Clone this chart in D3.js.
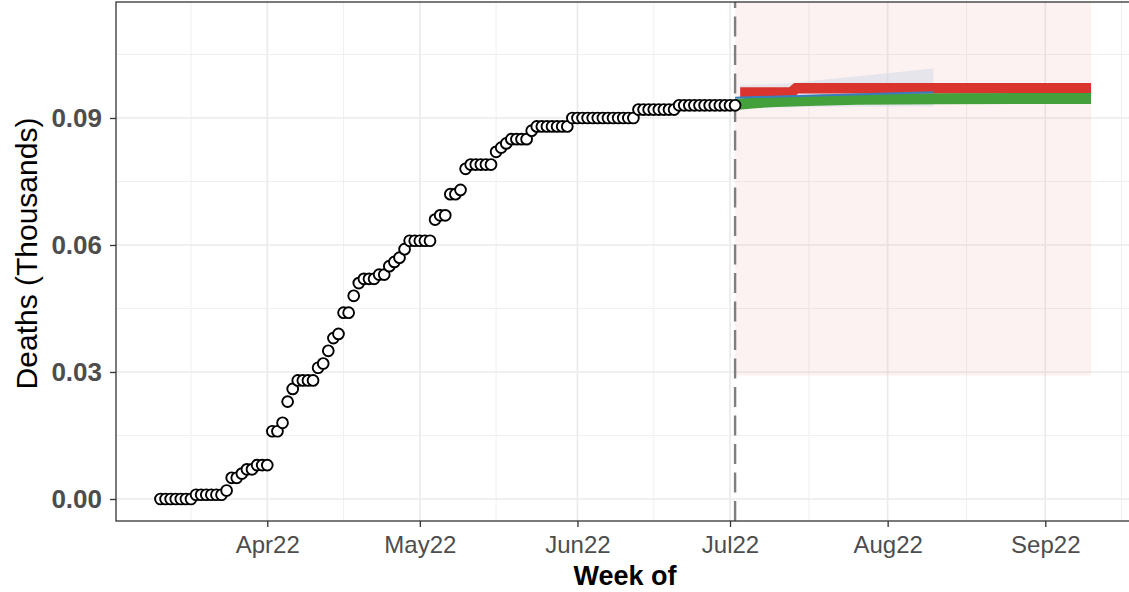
<!DOCTYPE html>
<html>
<head>
<meta charset="utf-8">
<script src="https://cdn.jsdelivr.net/npm/d3@7"></script>
<style>
  html, body { margin: 0; padding: 0; background: #fff; }
  svg { display: block; font-family: "Liberation Sans", Arial, Helvetica, sans-serif; }
</style>
</head>
<body>
<svg id="chart" width="1129" height="592"></svg>
<script>
// ---------------- DATA ----------------
// Observed cumulative deaths (thousands), one point per day from obsStart
const obsStart = "2022-03-11";
const obsDeaths = [
  0.000,0.000,0.000,0.000,0.000,0.000,0.000,
  0.001,0.001,0.001,0.001,0.001,0.001,0.002,
  0.005,0.005,0.006,0.007,0.007,0.008,0.008,0.008,
  0.016,0.016,0.018,0.023,0.026,0.028,0.028,0.028,0.028,
  0.031,0.032,0.035,0.038,0.039,0.044,0.044,
  0.048,0.051,0.052,0.052,0.052,0.053,0.053,
  0.055,0.056,0.057,0.059,0.061,0.061,0.061,0.061,0.061,
  0.066,0.067,0.067,0.072,0.072,0.073,
  0.078,0.079,0.079,0.079,0.079,0.079,
  0.082,0.083,0.084,0.085,0.085,0.085,0.085,
  0.087,0.088,0.088,0.088,0.088,0.088,0.088,0.088,
  0.090,0.090,0.090,0.090,0.090,0.090,0.090,0.090,0.090,0.090,0.090,0.090,0.090,
  0.092,0.092,0.092,0.092,0.092,0.092,0.092,0.092,
  0.093,0.093,0.093,0.093,0.093,0.093,0.093,0.093,0.093,0.093,0.093,0.093
];

// Forecast window
const forecastStart = "2022-07-02";
const forecastEnd = "2022-09-10";
const forecastBoxLow = 0.0292;

// Red forecast
const redDates = ["2022-07-03","2022-07-13","2022-07-14","2022-09-10"];
const redValues = [0.0960, 0.0960, 0.0970, 0.0970];

// Grey interval (blue model)
const greyDates = ["2022-07-03","2022-07-13","2022-07-14","2022-08-10"];
const greyUpper = [0.0978, 0.0982, 0.0984, 0.1017];
const greyLower = [0.0925, 0.0925, 0.0926, 0.0928];

// Green forecast
const greenDates = ["2022-07-02","2022-07-06","2022-07-10","2022-07-18","2022-07-26","2022-08-11","2022-09-10"];
const greenValues = [0.0932, 0.0936, 0.0939, 0.0942, 0.0944, 0.09455, 0.0946];

// Blue forecast
const blueDates = ["2022-07-02","2022-07-20","2022-08-10"];
const blueValues = [0.0948, 0.0954, 0.0961];

// Axes
const xTickDates = ["2022-04-01","2022-05-01","2022-06-01","2022-07-01","2022-08-01","2022-09-01"];
const xMinorDates = ["2022-03-17","2022-04-16","2022-05-16","2022-06-16","2022-07-16T12:00","2022-08-16T12:00","2022-09-16"];
const yTicks = [0.00, 0.03, 0.06, 0.09];
const yMinor = [0.015, 0.045, 0.075, 0.105];
const xTitle = "Week of";
const yTitle = "Deaths (Thousands)";

// ---------------- LAYOUT ----------------
const W = 1129, H = 592;
const panel = { left: 116, top: 2, bottom: 521 };
const pxPerDay = 5.085;
const DAY = 86400000;
const parse = s => new Date(s.length > 10 ? s + ":00Z" : s + "T00:00:00Z");

const xStart = new Date(Date.UTC(2022, 2, 2, 6));   // panel left edge
const xEnd = new Date(xStart.getTime() + 210 * DAY);
const x = d3.scaleUtc().domain([xStart, xEnd]).range([panel.left, panel.left + 210 * pxPerDay]);
const y = d3.scaleLinear().domain([-0.0052, 0.1174]).range([panel.bottom, panel.top]);

const svg = d3.select("#chart");
const t0 = parse(obsStart).getTime();
const obs = obsDeaths.map((v, i) => ({ date: new Date(t0 + i * DAY), v }));

// Gridlines
const grid = svg.append("g");
grid.selectAll(".ymin").data(yMinor).join("line")
  .attr("x1", panel.left).attr("x2", W + 20)
  .attr("y1", d => y(d)).attr("y2", d => y(d))
  .attr("stroke", "#f0f0f0").attr("stroke-width", 1);
grid.selectAll(".xmin").data(xMinorDates).join("line")
  .attr("x1", d => x(parse(d))).attr("x2", d => x(parse(d)))
  .attr("y1", panel.top).attr("y2", panel.bottom)
  .attr("stroke", "#f0f0f0").attr("stroke-width", 1);
grid.selectAll(".ymaj").data(yTicks).join("line")
  .attr("x1", panel.left).attr("x2", W + 20)
  .attr("y1", d => y(d)).attr("y2", d => y(d))
  .attr("stroke", "#ebebeb").attr("stroke-width", 1.7);
grid.selectAll(".xmaj").data(xTickDates).join("line")
  .attr("x1", d => x(parse(d))).attr("x2", d => x(parse(d)))
  .attr("y1", panel.top).attr("y2", panel.bottom)
  .attr("stroke", "#ebebeb").attr("stroke-width", 1.7);

// Forecast box
svg.append("rect")
  .attr("x", x(parse(forecastStart)))
  .attr("width", x(parse(forecastEnd)) - x(parse(forecastStart)))
  .attr("y", panel.top)
  .attr("height", y(forecastBoxLow) - panel.top)
  .attr("fill", "#f08080").attr("fill-opacity", 0.1);

// Dashed vertical line
svg.append("line")
  .attr("x1", x(parse(forecastStart))).attr("x2", x(parse(forecastStart)))
  .attr("y1", panel.bottom).attr("y2", panel.top)
  .attr("stroke", "#7f7f7f").attr("stroke-width", 2.4)
  .attr("stroke-dasharray", "20,8.5");

const line = d3.line().x(d => x(d.date)).y(d => y(d.v));

// Grey interval
svg.append("path")
  .datum(greyDates.map((d, i) => ({ date: parse(d), lo: greyLower[i], hi: greyUpper[i] })))
  .attr("d", d3.area().x(d => x(d.date)).y0(d => y(d.lo)).y1(d => y(d.hi)))
  .attr("fill", "#cfd8e6").attr("fill-opacity", 0.5);

// Red forecast (thick line)
svg.append("path")
  .datum(redDates.map((d, i) => ({ date: parse(d), v: redValues[i] })))
  .attr("d", line).attr("fill", "none")
  .attr("stroke", "#d9342e").attr("stroke-width", 10.5).attr("stroke-linecap", "butt");

// Green forecast
svg.append("path")
  .datum(greenDates.map((d, i) => ({ date: parse(d), v: greenValues[i] })))
  .attr("d", line).attr("fill", "none")
  .attr("stroke", "#43a03a").attr("stroke-width", 11).attr("stroke-linecap", "butt");

// Blue forecast
svg.append("path")
  .datum(blueDates.map((d, i) => ({ date: parse(d), v: blueValues[i] })))
  .attr("d", line).attr("fill", "none")
  .attr("stroke", "#3a7dbf").attr("stroke-width", 2);

// Observed points
svg.append("g").selectAll("circle").data(obs).join("circle")
  .attr("cx", d => x(d.date)).attr("cy", d => y(d.v))
  .attr("r", 5.4).attr("fill", "#fff").attr("stroke", "#000").attr("stroke-width", 1.9);

// Panel border
svg.append("rect")
  .attr("x", panel.left).attr("y", panel.top)
  .attr("width", W + 40 - panel.left).attr("height", panel.bottom - panel.top)
  .attr("fill", "none").attr("stroke", "#333").attr("stroke-width", 1.3);

// Axes
const yAxis = d3.axisLeft(y).tickValues(yTicks).tickFormat(d3.format(".2f")).tickSize(6).tickPadding(8);
const gy = svg.append("g").attr("transform", `translate(${panel.left},0)`).call(yAxis);
gy.select(".domain").remove();
gy.selectAll(".tick line").attr("stroke", "#333").attr("stroke-width", 1.3);
gy.selectAll(".tick text").attr("fill", "#4d4d4d").attr("font-size", 26).attr("font-weight", "bold")
  .attr("font-family", "'Liberation Sans', Arial, sans-serif");

const xAxis = d3.axisBottom(x).tickValues(xTickDates.map(parse)).tickFormat(d3.utcFormat("%b%y")).tickSize(6).tickPadding(9);
const gx = svg.append("g").attr("transform", `translate(0,${panel.bottom})`).call(xAxis);
gx.select(".domain").remove();
gx.selectAll(".tick line").attr("stroke", "#333").attr("stroke-width", 1.3);
gx.selectAll(".tick text").attr("fill", "#4d4d4d").attr("font-size", 24)
  .attr("font-family", "'Liberation Sans', Arial, sans-serif");

// Titles
svg.append("text").attr("x", 625).attr("y", 585).attr("text-anchor", "middle")
  .attr("font-size", 27).attr("font-weight", "bold").attr("fill", "#000").text(xTitle);
svg.append("text").attr("transform", `translate(37,${(panel.top + panel.bottom) / 2 - 8}) rotate(-90)`)
  .attr("text-anchor", "middle").attr("font-size", 30).attr("fill", "#000").text(yTitle);
</script>
</body>
</html>
